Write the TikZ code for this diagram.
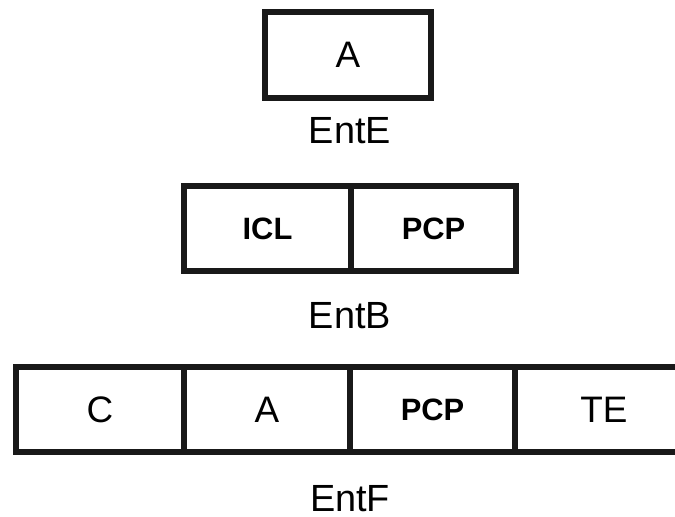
\documentclass[tikz,border=0pt]{standalone}
\usepackage{fontspec}
\setmainfont{Liberation Sans}
\begin{document}
\begin{tikzpicture}[x=1bp,y=-1bp,
  cell/.style={draw=black!90, line width=5.5bp, inner sep=0pt, minimum height=85bp},
  plain/.style={font=\fontsize{37}{40}\selectfont},
  bold/.style={font=\fontsize{31}{36}\selectfont\bfseries},
  caption/.style={font=\fontsize{38}{44}\selectfont, anchor=base, inner sep=0pt}]
\useasboundingbox (0,0) rectangle (675,517);

% single-field entry
\node[cell, plain, minimum width=166bp, minimum height=86bp] (e1) at (348,55) {A};
\node[caption] (entE) at (350,144) {EntE};

% two-field entry
\node[cell, bold, minimum width=167bp] (b1) at (267.5,228.5) {ICL};
\node[cell, bold, minimum width=165bp] (b2) at (433.5,228.5) {PCP};
\node[caption] (entB) at (350,328) {EntB};

% four-field entry, last field runs off the right edge
\node[cell, plain, minimum width=168bp] (f1) at (100,409.5) {C};
\node[cell, plain, minimum width=166bp] (f2) at (267,409.5) {A};
\node[cell, bold, minimum width=165bp] (f3) at (432.5,409.5) {PCP};
\node[plain, inner sep=0pt, minimum width=178bp, minimum height=85bp] (f4) at (604,409.5) {TE};
\draw[draw=black!90, line width=5.5bp]
  ([xshift=40bp]f4.north east) -- (f4.north west) -- (f4.south west) -- ([xshift=40bp]f4.south east);
\node[caption] (entF) at (350,511) {EntF};
\end{tikzpicture}
\end{document}
